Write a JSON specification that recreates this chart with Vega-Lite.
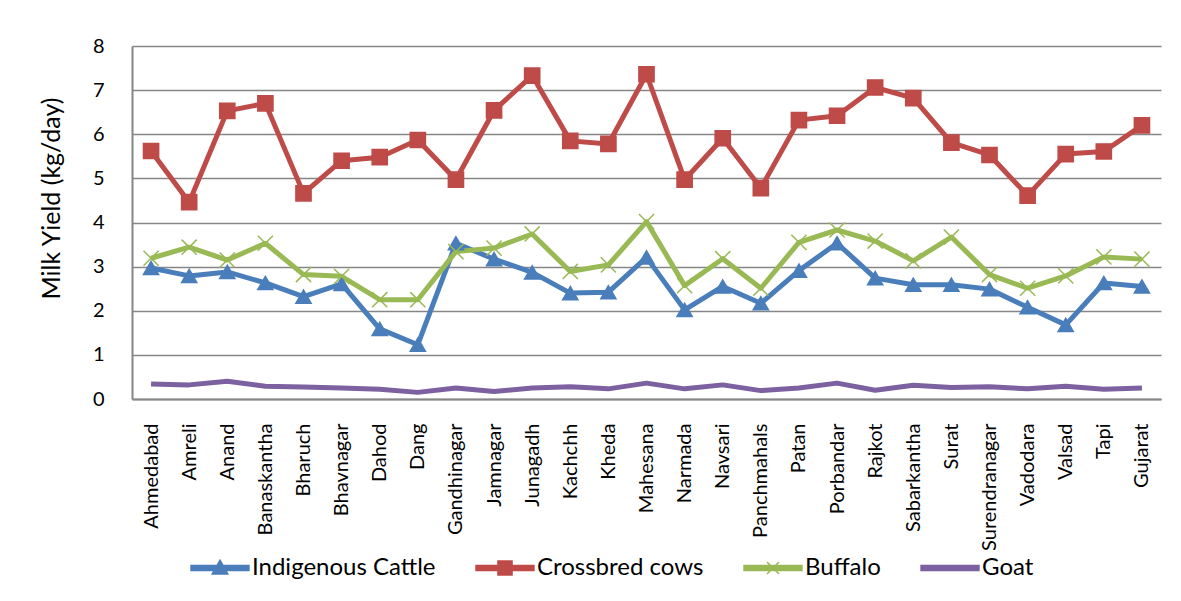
{
  "$schema": "https://vega.github.io/schema/vega-lite/v6.json",
  "width": 1029,
  "height": 353,
  "autosize": {"type": "none"},
  "padding": {"left": 132, "top": 46, "right": 20, "bottom": 202},
  "background": "white",
  "config": {
    "view": {"stroke": null},
    "font": "Lato",
    "axis": {
      "gridColor": "#868686",
      "gridWidth": 1.5,
      "domainColor": "#868686",
      "domainWidth": 2,
      "ticks": false,
      "labelColor": "#000000",
      "titleColor": "#000000",
      "labelFont": "Lato",
      "titleFont": "Lato"
    },
    "legend": {"labelFont": "Lato"}
  },
  "data": {
    "values": [
      {"d": "Ahmedabad", "s": "Indigenous Cattle", "v": 2.97},
      {"d": "Amreli", "s": "Indigenous Cattle", "v": 2.79},
      {"d": "Anand", "s": "Indigenous Cattle", "v": 2.88},
      {"d": "Banaskantha", "s": "Indigenous Cattle", "v": 2.63},
      {"d": "Bharuch", "s": "Indigenous Cattle", "v": 2.32},
      {"d": "Bhavnagar", "s": "Indigenous Cattle", "v": 2.61},
      {"d": "Dahod", "s": "Indigenous Cattle", "v": 1.59},
      {"d": "Dang", "s": "Indigenous Cattle", "v": 1.23},
      {"d": "Gandhinagar", "s": "Indigenous Cattle", "v": 3.53},
      {"d": "Jamnagar", "s": "Indigenous Cattle", "v": 3.17},
      {"d": "Junagadh", "s": "Indigenous Cattle", "v": 2.87},
      {"d": "Kachchh", "s": "Indigenous Cattle", "v": 2.40},
      {"d": "Kheda", "s": "Indigenous Cattle", "v": 2.42},
      {"d": "Mahesana", "s": "Indigenous Cattle", "v": 3.21},
      {"d": "Narmada", "s": "Indigenous Cattle", "v": 2.02},
      {"d": "Navsari", "s": "Indigenous Cattle", "v": 2.55},
      {"d": "Panchmahals", "s": "Indigenous Cattle", "v": 2.17},
      {"d": "Patan", "s": "Indigenous Cattle", "v": 2.91},
      {"d": "Porbandar", "s": "Indigenous Cattle", "v": 3.53},
      {"d": "Rajkot", "s": "Indigenous Cattle", "v": 2.74},
      {"d": "Sabarkantha", "s": "Indigenous Cattle", "v": 2.59},
      {"d": "Surat", "s": "Indigenous Cattle", "v": 2.59},
      {"d": "Surendranagar", "s": "Indigenous Cattle", "v": 2.49},
      {"d": "Vadodara", "s": "Indigenous Cattle", "v": 2.08},
      {"d": "Valsad", "s": "Indigenous Cattle", "v": 1.68},
      {"d": "Tapi", "s": "Indigenous Cattle", "v": 2.63},
      {"d": "Gujarat", "s": "Indigenous Cattle", "v": 2.55},
      {"d": "Ahmedabad", "s": "Crossbred cows", "v": 5.62},
      {"d": "Amreli", "s": "Crossbred cows", "v": 4.46},
      {"d": "Anand", "s": "Crossbred cows", "v": 6.53},
      {"d": "Banaskantha", "s": "Crossbred cows", "v": 6.70},
      {"d": "Bharuch", "s": "Crossbred cows", "v": 4.66},
      {"d": "Bhavnagar", "s": "Crossbred cows", "v": 5.40},
      {"d": "Dahod", "s": "Crossbred cows", "v": 5.48},
      {"d": "Dang", "s": "Crossbred cows", "v": 5.87},
      {"d": "Gandhinagar", "s": "Crossbred cows", "v": 4.97},
      {"d": "Jamnagar", "s": "Crossbred cows", "v": 6.54},
      {"d": "Junagadh", "s": "Crossbred cows", "v": 7.33},
      {"d": "Kachchh", "s": "Crossbred cows", "v": 5.85},
      {"d": "Kheda", "s": "Crossbred cows", "v": 5.78},
      {"d": "Mahesana", "s": "Crossbred cows", "v": 7.36},
      {"d": "Narmada", "s": "Crossbred cows", "v": 4.97},
      {"d": "Navsari", "s": "Crossbred cows", "v": 5.91},
      {"d": "Panchmahals", "s": "Crossbred cows", "v": 4.78},
      {"d": "Patan", "s": "Crossbred cows", "v": 6.32},
      {"d": "Porbandar", "s": "Crossbred cows", "v": 6.42},
      {"d": "Rajkot", "s": "Crossbred cows", "v": 7.06},
      {"d": "Sabarkantha", "s": "Crossbred cows", "v": 6.82},
      {"d": "Surat", "s": "Crossbred cows", "v": 5.81},
      {"d": "Surendranagar", "s": "Crossbred cows", "v": 5.53},
      {"d": "Vadodara", "s": "Crossbred cows", "v": 4.61},
      {"d": "Valsad", "s": "Crossbred cows", "v": 5.55},
      {"d": "Tapi", "s": "Crossbred cows", "v": 5.61},
      {"d": "Gujarat", "s": "Crossbred cows", "v": 6.20},
      {"d": "Ahmedabad", "s": "Buffalo", "v": 3.19},
      {"d": "Amreli", "s": "Buffalo", "v": 3.44},
      {"d": "Anand", "s": "Buffalo", "v": 3.15},
      {"d": "Banaskantha", "s": "Buffalo", "v": 3.53},
      {"d": "Bharuch", "s": "Buffalo", "v": 2.82},
      {"d": "Bhavnagar", "s": "Buffalo", "v": 2.78},
      {"d": "Dahod", "s": "Buffalo", "v": 2.25},
      {"d": "Dang", "s": "Buffalo", "v": 2.25},
      {"d": "Gandhinagar", "s": "Buffalo", "v": 3.34},
      {"d": "Jamnagar", "s": "Buffalo", "v": 3.42},
      {"d": "Junagadh", "s": "Buffalo", "v": 3.74},
      {"d": "Kachchh", "s": "Buffalo", "v": 2.89},
      {"d": "Kheda", "s": "Buffalo", "v": 3.04},
      {"d": "Mahesana", "s": "Buffalo", "v": 4.02},
      {"d": "Narmada", "s": "Buffalo", "v": 2.57},
      {"d": "Navsari", "s": "Buffalo", "v": 3.18},
      {"d": "Panchmahals", "s": "Buffalo", "v": 2.51},
      {"d": "Patan", "s": "Buffalo", "v": 3.55},
      {"d": "Porbandar", "s": "Buffalo", "v": 3.83},
      {"d": "Rajkot", "s": "Buffalo", "v": 3.58},
      {"d": "Sabarkantha", "s": "Buffalo", "v": 3.13},
      {"d": "Surat", "s": "Buffalo", "v": 3.67},
      {"d": "Surendranagar", "s": "Buffalo", "v": 2.82},
      {"d": "Vadodara", "s": "Buffalo", "v": 2.51},
      {"d": "Valsad", "s": "Buffalo", "v": 2.79},
      {"d": "Tapi", "s": "Buffalo", "v": 3.22},
      {"d": "Gujarat", "s": "Buffalo", "v": 3.17},
      {"d": "Ahmedabad", "s": "Goat", "v": 0.34},
      {"d": "Amreli", "s": "Goat", "v": 0.32},
      {"d": "Anand", "s": "Goat", "v": 0.40},
      {"d": "Banaskantha", "s": "Goat", "v": 0.29},
      {"d": "Bharuch", "s": "Goat", "v": 0.27},
      {"d": "Bhavnagar", "s": "Goat", "v": 0.25},
      {"d": "Dahod", "s": "Goat", "v": 0.22},
      {"d": "Dang", "s": "Goat", "v": 0.15},
      {"d": "Gandhinagar", "s": "Goat", "v": 0.25},
      {"d": "Jamnagar", "s": "Goat", "v": 0.17},
      {"d": "Junagadh", "s": "Goat", "v": 0.25},
      {"d": "Kachchh", "s": "Goat", "v": 0.28},
      {"d": "Kheda", "s": "Goat", "v": 0.23},
      {"d": "Mahesana", "s": "Goat", "v": 0.36},
      {"d": "Narmada", "s": "Goat", "v": 0.23},
      {"d": "Navsari", "s": "Goat", "v": 0.32},
      {"d": "Panchmahals", "s": "Goat", "v": 0.19},
      {"d": "Patan", "s": "Goat", "v": 0.25},
      {"d": "Porbandar", "s": "Goat", "v": 0.36},
      {"d": "Rajkot", "s": "Goat", "v": 0.20},
      {"d": "Sabarkantha", "s": "Goat", "v": 0.31},
      {"d": "Surat", "s": "Goat", "v": 0.26},
      {"d": "Surendranagar", "s": "Goat", "v": 0.28},
      {"d": "Vadodara", "s": "Goat", "v": 0.23},
      {"d": "Valsad", "s": "Goat", "v": 0.29},
      {"d": "Tapi", "s": "Goat", "v": 0.22},
      {"d": "Gujarat", "s": "Goat", "v": 0.25}
    ]
  },
  "encoding": {
    "x": {
      "field": "d",
      "type": "nominal",
      "sort": null,
      "scale": {"type": "point", "padding": 0.5},
      "axis": {
        "title": null,
        "labelAngle": -90,
        "labelAlign": "right",
        "labelBaseline": "middle",
        "labelPadding": 24,
        "labelFontSize": 20,
        "grid": false
      }
    },
    "y": {
      "field": "v",
      "type": "quantitative",
      "scale": {"domain": [0, 8], "nice": false},
      "axis": {
        "values": [0, 1, 2, 3, 4, 5, 6, 7, 8],
        "title": "Milk Yield (kg/day)",
        "titleFontSize": 25,
        "titleFontWeight": "normal",
        "titlePadding": 28,
        "titleY": 152,
        "labelFontSize": 20,
        "labelPadding": 28,
        "grid": true
      }
    },
    "color": {
      "field": "s",
      "type": "nominal",
      "sort": ["Indigenous Cattle", "Crossbred cows", "Buffalo", "Goat"],
      "scale": {
        "domain": ["Indigenous Cattle", "Crossbred cows", "Buffalo", "Goat"],
        "range": ["#4A7EBB", "#BE4B48", "#98B954", "#7D60A0"]
      }
    }
  },
  "layer": [
    {
      "mark": {"type": "line", "strokeWidth": 5, "strokeJoin": "round"},
      "encoding": {
        "color": {
          "field": "s",
          "type": "nominal",
          "sort": ["Indigenous Cattle", "Crossbred cows", "Buffalo", "Goat"],
          "legend": {
            "orient": "none",
            "legendX": 72,
            "legendY": 506,
            "direction": "horizontal",
            "title": null,
            "symbolSize": 900,
            "labelFontSize": 24,
            "labelColor": "#000000",
            "labelOffset": 16,
            "labelLimit": 400,
            "columnPadding": 37,
            "encode": {
              "symbols": {
                "update": {
                  "shape": {"signal": "datum.value === 'Indigenous Cattle' ? 'M-1.93,-0.16H1.93V0.16H-1.93ZM0,-0.52L0.52,0.4L-0.52,0.4Z' : datum.value === 'Crossbred cows' ? 'M-1.93,-0.16H1.93V0.16H-1.93ZM-0.47,-0.47H0.47V0.47H-0.47Z' : datum.value === 'Buffalo' ? 'M-1.93,-0.16H1.93V0.16H-1.93ZM-0.4,-0.4L0.4,0.4M-0.4,0.4L0.4,-0.4' : 'M-1.93,-0.16H1.93V0.16H-1.93Z'"},
                  "fill": {"scale": "color", "field": "value"},
                  "stroke": {"scale": "color", "field": "value"},
                  "strokeWidth": {"value": 1.5},
                  "opacity": {"value": 1}
                }
              }
            }
          }
        }
      }
    },
    {
      "transform": [{"filter": "datum.s !== 'Goat'"}],
      "mark": {"type": "point", "filled": true, "opacity": 1, "size": 230, "strokeWidth": 1.5},
      "encoding": {
        "shape": {
          "field": "s",
          "type": "nominal",
          "scale": {
            "domain": ["Indigenous Cattle", "Crossbred cows", "Buffalo"],
            "range": ["triangle-up", "square", "M-1,-1L1,1M-1,1L1,-1"]
          },
          "legend": null
        },
        "stroke": {
          "field": "s",
          "type": "nominal",
          "scale": {
            "domain": ["Indigenous Cattle", "Crossbred cows", "Buffalo", "Goat"],
            "range": ["#4A7EBB", "#BE4B48", "#98B954", "#7D60A0"]
          },
          "legend": null
        }
      }
    }
  ]
}
